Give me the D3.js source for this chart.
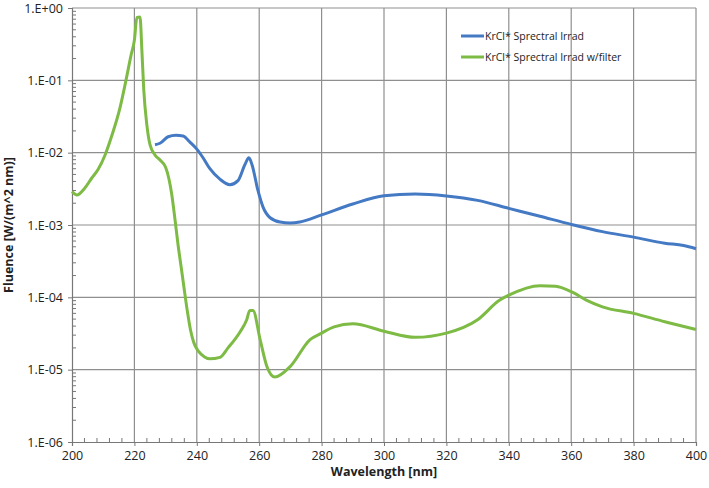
<!DOCTYPE html>
<html>
<head>
<meta charset="utf-8">
<script src="https://cdn.jsdelivr.net/npm/d3@7"></script>
<style>
  body { margin: 0; background: #fff; }
  svg text { font-family: "Open Sans", "Liberation Sans", sans-serif; fill: #222; }
</style>
</head>
<body>
<svg id="chart" width="709" height="488"></svg>
<script>
// wavelength [nm] / fluence
var blueX = [226.6, 228.2, 230.8, 233.3, 235.6, 237.8, 240, 242, 244.2, 247.4, 250.6, 253.2, 255.4, 256.7, 257.7, 259.6, 261.2, 263.5, 266.7, 269.9, 273,
  280, 290, 300, 310, 320, 330, 340, 350, 360, 370, 380, 390, 396, 400];
var blueY = [0.0129, 0.0135, 0.0166, 0.0174, 0.0170, 0.0140, 0.0112, 0.0085, 0.0060, 0.0043, 0.0036, 0.0041, 0.0068, 0.0085, 0.0068, 0.0030, 0.00178, 0.00126, 0.00110, 0.00107, 0.00110,
  0.00138, 0.00195, 0.00254, 0.00268, 0.00252, 0.00219, 0.00170, 0.00132, 0.00102, 0.00081, 0.00068, 0.00056, 0.00052, 0.00047];

var greenX = [200, 201.6, 204, 206.4, 208.3, 210.6, 212.8, 215.4, 217.3, 218.9, 220, 220.8, 221.8, 222.4, 223, 224, 225, 226.6, 228.2, 230, 232, 233, 234, 235,
  236, 237, 238, 239, 240.5, 242.5, 244.2, 247.4, 250, 253.8, 256, 257, 258, 260.3, 262.5, 265, 269.9, 276.3, 280, 284, 290, 300, 310, 320, 330, 337, 340, 350, 355, 360, 365, 370, 380, 390, 400];
var greenY = [0.0029, 0.0026, 0.0032, 0.0045, 0.0058, 0.0093, 0.0174, 0.042, 0.10, 0.22, 0.36, 0.74, 0.75, 0.26, 0.074, 0.024, 0.0129, 0.0093, 0.0079, 0.0063, 0.0026, 0.0012, 0.00053, 0.00026,
  0.000126, 0.000063, 0.000035, 0.000024, 0.000018, 0.0000150, 0.0000141, 0.0000148, 0.000020, 0.000033, 0.000049, 0.000066, 0.000066, 0.000026, 0.000011, 0.0000079, 0.000011, 0.000026, 0.000032, 0.000039, 0.000043, 0.000034, 0.000028, 0.000032, 0.000049, 0.000091, 0.000107, 0.000145, 0.000142, 0.000120, 0.000091, 0.000074, 0.000060, 0.000046, 0.000036];

var xTicks = [200, 220, 240, 260, 280, 300, 320, 340, 360, 380, 400];
var yTicks = [1e0, 1e-1, 1e-2, 1e-3, 1e-4, 1e-5, 1e-6];
var yTickLabels = ["1.E+00", "1.E-01", "1.E-02", "1.E-03", "1.E-04", "1.E-05", "1.E-06"];
var seriesNames = ["KrCl* Sprectral Irrad", "KrCl* Sprectral Irrad w/filter"];
var seriesColors = ["#4479c4", "#7dbb45"];

var svg = d3.select("#chart");
var plotLeft = 72, plotRight = 696, plotTop = 8, plotBottom = 442;

var x = d3.scaleLinear().domain([200, 400]).range([plotLeft, plotRight]);
var y = d3.scaleLog().domain([1e-6, 1]).range([plotBottom, plotTop]);

var grid = svg.append("g");
// grid lines
grid.selectAll(".vg").data(xTicks.slice(1)).enter().append("line")
  .attr("x1", d => x(d)).attr("x2", d => x(d))
  .attr("y1", plotTop).attr("y2", plotBottom)
  .attr("stroke", "#8f8f8f").attr("stroke-width", 1.2);
grid.selectAll(".hg").data(yTicks.slice(0, -1)).enter().append("line")
  .attr("x1", plotLeft).attr("x2", plotRight)
  .attr("y1", d => y(d)).attr("y2", d => y(d))
  .attr("stroke", "#8f8f8f").attr("stroke-width", 1.2);

// minor ticks
var minorY = [];
for (var e = -6; e < 0; e++) {
  for (var m = 2; m <= 9; m++) minorY.push(m * Math.pow(10, e));
}
grid.selectAll(".my").data(minorY).enter().append("line")
  .attr("x1", plotLeft).attr("x2", plotLeft + 4)
  .attr("y1", d => y(d)).attr("y2", d => y(d))
  .attr("stroke", "#777").attr("stroke-width", 1);
var minorX = d3.range(204, 400, 4).filter(d => d % 20 != 0);
grid.selectAll(".mx").data(minorX).enter().append("line")
  .attr("x1", d => x(d)).attr("x2", d => x(d))
  .attr("y1", plotBottom).attr("y2", plotBottom - 4)
  .attr("stroke", "#777").attr("stroke-width", 1);

// axes
var xAxis = d3.axisBottom(x).tickValues(xTicks).tickSize(4).tickPadding(5).tickFormat(d3.format("d"));
var gx = svg.append("g").attr("transform", "translate(0," + plotBottom + ")").call(xAxis);
gx.selectAll("text").attr("font-size", 12.5).attr("fill", "#222");

var yAxis = d3.axisLeft(y).tickValues(yTicks).tickSize(4).tickPadding(5)
  .tickFormat((d, i) => yTickLabels[i]);
var gy = svg.append("g").attr("transform", "translate(" + plotLeft + ",0)").call(yAxis);
gy.selectAll("text").attr("font-size", 12.5).attr("fill", "#222");

[gx, gy].forEach(function (g) {
  g.select(".domain").attr("stroke", "#777").attr("stroke-width", 1.2);
  g.selectAll(".tick line").attr("stroke", "#777");
  g.selectAll("text").style("font-family", "'Open Sans', sans-serif");
});

// lines
var line = d3.line().x(d => x(d[0])).y(d => y(d[1])).curve(d3.curveMonotoneX);
var blueData = blueX.map((v, i) => [v, blueY[i]]);
var greenData = greenX.map((v, i) => [v, greenY[i]]);

svg.append("path").datum(blueData).attr("d", line)
  .attr("fill", "none").attr("stroke", seriesColors[0]).attr("stroke-width", 3);
svg.append("path").datum(greenData).attr("d", line)
  .attr("fill", "none").attr("stroke", seriesColors[1]).attr("stroke-width", 3);

// legend
var legend = svg.append("g");
seriesNames.forEach(function (name, i) {
  var ly = 36 + i * 21;
  legend.append("line")
    .attr("x1", 461).attr("x2", 484).attr("y1", ly).attr("y2", ly)
    .attr("stroke", seriesColors[i]).attr("stroke-width", 3);
  legend.append("text")
    .attr("x", 485).attr("y", ly + 4)
    .attr("font-size", 10.5)
    .text(name);
});

// axis titles
svg.append("text")
  .attr("x", (plotLeft + plotRight) / 2).attr("y", 476)
  .attr("text-anchor", "middle")
  .attr("font-size", 12.5).attr("font-weight", "bold")
  .text("Wavelength [nm]");

svg.append("text")
  .attr("transform", "translate(13," + (plotTop + plotBottom) / 2 + ") rotate(-90)")
  .attr("text-anchor", "middle")
  .attr("font-size", 12.5).attr("font-weight", "bold")
  .text("Fluence [W/(m^2 nm)]");
</script>
</body>
</html>
